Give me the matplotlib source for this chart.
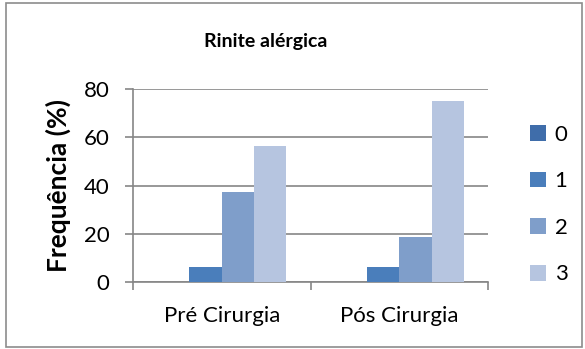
import matplotlib.pyplot as plt
import numpy as np
from matplotlib.patches import Rectangle

categories = ['Pré Cirurgia', 'Pós Cirurgia']
series = ['0', '1', '2', '3']
values = {
    '0': [0, 0],
    '1': [6.25, 6.25],
    '2': [37.5, 18.75],
    '3': [56.25, 75],
}
colors = ['#3F6DAA', '#4A7EBB', '#7F9ECA', '#B6C5E0']
yticks = [0, 20, 40, 60, 80]

plt.rcParams['font.family'] = ['Lato', 'DejaVu Sans']

fig = plt.figure(figsize=(5.85, 3.49), dpi=100)
ax = fig.add_axes([133 / 585, 1 - 282 / 349, 355 / 585, 193 / 349])

x = np.arange(len(categories))
w = 1 / 5.5
for i, s in enumerate(series):
    ax.bar(x + (i - 1.5) * w, values[s], w, color=colors[i], label=s,
           edgecolor='none', zorder=3)

ax.set_xlim(-0.5, 1.5)
ax.set_ylim(0, 80)
ax.set_yticks(yticks)
ax.set_xticks(x)
ax.set_xticklabels(categories)
ax.set_xticks([-0.5, 0.5, 1.5], minor=True)
ax.tick_params(axis='x', which='major', length=0, pad=17, labelsize=16)
ax.tick_params(axis='x', which='minor', length=6, width=1.2, color='#868686')
ax.tick_params(axis='y', length=6, width=1.2, color='#868686', pad=11,
               labelsize=16)
ax.yaxis.grid(True, color='#868686', linewidth=1.2, zorder=0)
for side in ['top', 'right']:
    ax.spines[side].set_visible(False)
for side in ['left', 'bottom']:
    ax.spines[side].set_color('#868686')
    ax.spines[side].set_linewidth(1.2)

ax.set_ylabel('Frequência (%)', fontsize=19, fontweight='bold')
ax.yaxis.set_label_coords(-0.176, 0.5)

fig.text(266 / 585, 1 - 42 / 349, 'Rinite alérgica', ha='center',
         va='center', fontsize=14, fontweight='bold')

ax.legend(loc='center left', bbox_to_anchor=(519 / 585, 1 - 204.5 / 349),
          bbox_transform=fig.transFigure, frameon=False, fontsize=16,
          handlelength=0.7, handleheight=0.7, labelspacing=1.2,
          handletextpad=0.4, borderpad=0)

fig.patches.append(Rectangle((6 / 585, 2 / 349), 576 / 585, 344 / 349,
                             transform=fig.transFigure, fill=False,
                             edgecolor='#8c8c8c', linewidth=1.2))

fig.savefig('out.png', dpi=100)
